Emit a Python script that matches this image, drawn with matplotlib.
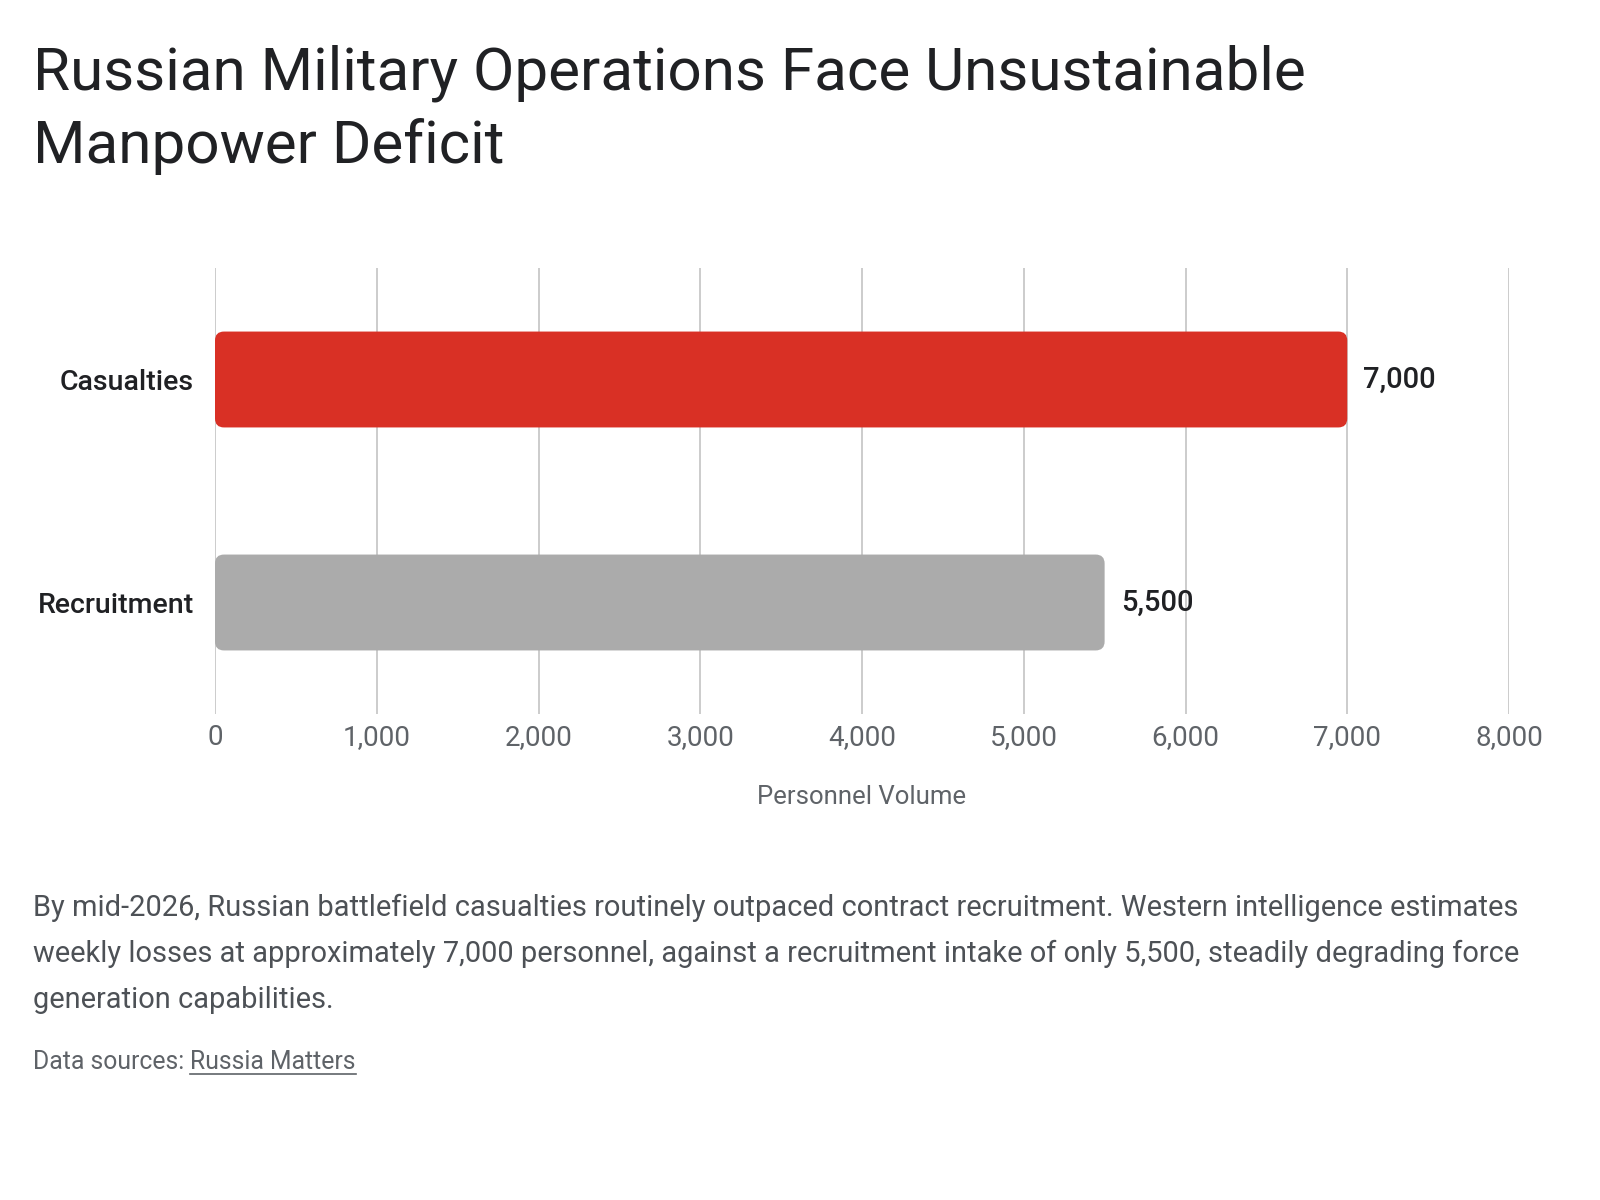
import matplotlib
matplotlib.use("Agg")
import matplotlib.pyplot as plt
from matplotlib.patches import FancyBboxPatch
from matplotlib.lines import Line2D
from matplotlib.ticker import FuncFormatter, MultipleLocator

# chart data
categories = ["Casualties", "Recruitment"]
values = [7000, 5500]
bar_colors = ["#D93025", "#ABABAB"]

title_lines = ["Russian Military Operations Face Unsustainable", "Manpower Deficit"]
x_label = "Personnel Volume"
caption_lines = [
    "By mid-2026, Russian battlefield casualties routinely outpaced contract recruitment. Western intelligence estimates",
    "weekly losses at approximately 7,000 personnel, against a recruitment intake of only 5,500, steadily degrading force",
    "generation capabilities.",
]
source_prefix = "Data sources: "
source_name = "Russia Matters"

plt.rcParams['font.family'] = ['Roboto', 'DejaVu Sans']

W, H = 1600, 1200
fig = plt.figure(figsize=(16, 12), dpi=100)
ax = fig.add_axes([215 / W, 1 - 714 / H, (1509 - 215) / W, (714 - 268) / H])

bars = ax.barh(categories, values, height=0.43, color=bar_colors)
ax.set_xlim(0, 8000)
ax.set_ylim(1.5, -0.5)

# swap plain bars for rounded ones
px_x = 8000 / (1509 - 215)
px_y = 2.0 / (714 - 268)
for b in bars:
    x0, y0 = b.get_xy()
    rb = FancyBboxPatch((x0, y0), b.get_width(), b.get_height(),
                        boxstyle="round,pad=0,rounding_size=%f" % (9 * px_x),
                        mutation_aspect=px_y / px_x,
                        facecolor=b.get_facecolor(), edgecolor="none", zorder=3)
    ax.add_patch(rb)
    b.remove()
    ax.text(b.get_width() + 100, y0 + b.get_height() / 2, f"{int(b.get_width()):,}",
            va="center", ha="left", fontsize=21, color="#202124", fontweight="medium")

ax.xaxis.set_major_locator(MultipleLocator(1000))
ax.xaxis.set_major_formatter(FuncFormatter(lambda v, p: f"{int(v):,}"))
ax.grid(axis="x", color="#CCCCCC", linewidth=1.4, zorder=0)
ax.set_axisbelow(True)
for s in ax.spines.values():
    s.set_visible(False)
ax.tick_params(axis="x", length=0, pad=7, labelsize=20, labelcolor="#5F6368")
ax.tick_params(axis="y", length=0, pad=15, labelsize=20.5, labelcolor="#202124")
for t in ax.get_yticklabels():
    t.set_fontweight("medium")
ax.set_xlabel(x_label, fontsize=18.5, color="#5F6368", labelpad=25)

for i, line in enumerate(title_lines):
    fig.text(33 / W, 1 - (90 + 73 * i) / H, line, fontsize=43.3, color="#202124",
             va="baseline", ha="left")
for i, line in enumerate(caption_lines):
    fig.text(33 / W, 1 - (916 + 46 * i) / H, line, fontsize=20.85, color="#4D5156",
             va="baseline", ha="left")

src_y = 1 - 1069 / H
src = fig.text(33 / W, src_y, source_prefix, fontsize=17.8, color="#5F6368",
               va="baseline", ha="left")
fig.canvas.draw()
r = fig.canvas.get_renderer()
bb = src.get_window_extent(r)
link = fig.text(bb.x1 / W, src_y, source_name, fontsize=17.8, color="#5F6368",
                va="baseline", ha="left")
lb = link.get_window_extent(r)
uy = src_y - 5 / H
fig.add_artist(Line2D([lb.x0 / W, lb.x1 / W], [uy, uy], color="#5F6368", linewidth=1.2))

fig.savefig("out.png", dpi=100, facecolor="white")
